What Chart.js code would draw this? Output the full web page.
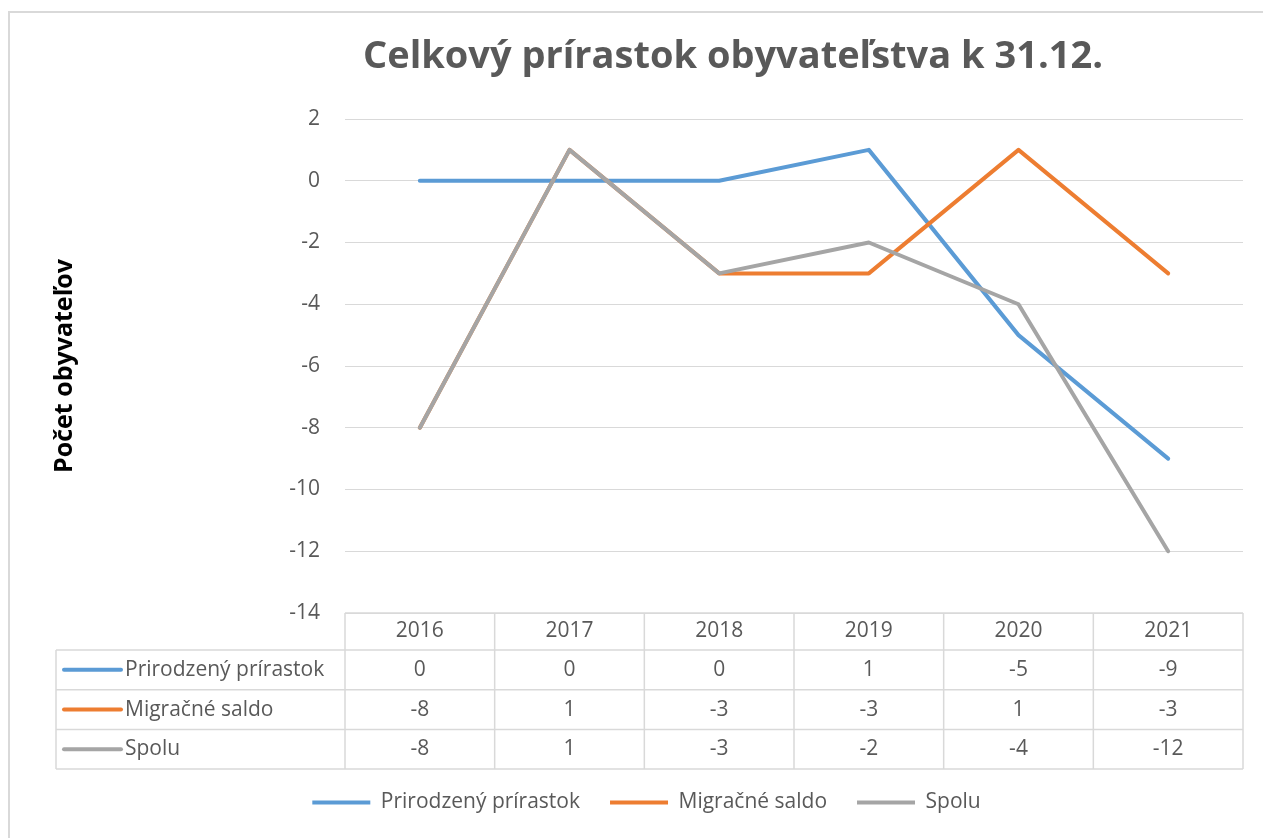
<!DOCTYPE html>
<html lang="sk">
<head>
<meta charset="UTF-8">
<title>Celkový prírastok obyvateľstva k 31.12.</title>
<script src="https://cdn.jsdelivr.net/npm/chart.js"></script>
<style>
html, body {
  margin: 0; padding: 0;
  width: 1263px; height: 838px;
  overflow: hidden;
  background: #fff;
}
#frame {
  position: absolute;
  left: 8px; top: 11px;
  width: 1300px; height: 900px;
  border-left: 2px solid #d9d9d9;
  border-top: 2px solid #d9d9d9;
}
#wrap {
  position: absolute;
  left: 0; top: 0;
  width: 1263px; height: 838px;
}
</style>
</head>
<body>
<div id="frame"></div>
<div id="wrap"><canvas id="chart" width="1263" height="838"></canvas></div>

<script>
const years = ['2016', '2017', '2018', '2019', '2020', '2021'];
const prirodzeny = [0, 0, 0, 1, -5, -9];
const migracne = [-8, 1, -3, -3, 1, -3];
const spolu = [-8, 1, -3, -2, -4, -12];
const seriesNames = ['Prirodzený prírastok', 'Migračné saldo', 'Spolu'];
const seriesColors = ['#5b9bd5', '#ed7d31', '#a5a5a5'];
const seriesValues = [prirodzeny, migracne, spolu];

const FONT = "'Open Sans', 'Noto Sans', sans-serif";
const TEXT = '#595959';
const GRID = '#d9d9d9';

// nadpis grafu
const titlePlugin = {
  id: 'chartTitle',
  afterDraw(chart) {
    const ctx = chart.ctx;
    ctx.save();
    ctx.font = 'bold 38px ' + FONT;
    ctx.fillStyle = TEXT;
    ctx.textAlign = 'center';
    ctx.textBaseline = 'middle';
    ctx.fillText('Celkový prírastok obyvateľstva k 31.12.', 733, 57);
    ctx.restore();
  }
};

// tabuľka údajov pod grafom
const tablePlugin = {
  id: 'dataTable',
  afterDraw(chart) {
    const { ctx, chartArea } = chart;
    const x = chart.scales.x;
    const top = chartArea.bottom;
    const headH = 37, rowH = 39.7;
    const colW = (chartArea.right - chartArea.left) / years.length;
    const leftX = 56;
    const bottom = top + headH + rowH * seriesNames.length;

    ctx.save();
    ctx.strokeStyle = GRID;
    ctx.lineWidth = 1.5;
    ctx.beginPath();
    ctx.moveTo(chartArea.left, top);
    ctx.lineTo(chartArea.right, top);
    for (let r = 0; r <= seriesNames.length; r++) {
      const y = top + headH + r * rowH;
      ctx.moveTo(leftX, y);
      ctx.lineTo(chartArea.right, y);
    }
    ctx.moveTo(leftX, top + headH);
    ctx.lineTo(leftX, bottom);
    for (let k = 0; k <= years.length; k++) {
      const cx = chartArea.left + k * colW;
      ctx.moveTo(cx, top);
      ctx.lineTo(cx, bottom);
    }
    ctx.stroke();

    ctx.font = '21px ' + FONT;
    ctx.fillStyle = TEXT;
    ctx.textBaseline = 'middle';
    ctx.textAlign = 'center';
    years.forEach((yr, i) => {
      ctx.fillText(yr, x.getPixelForValue(i), top + headH / 2);
    });
    seriesValues.forEach((vals, r) => {
      const cy = top + headH + rowH * (r + 0.5);
      ctx.textAlign = 'center';
      vals.forEach((v, i) => {
        ctx.fillText(String(v), x.getPixelForValue(i), cy);
      });
      ctx.strokeStyle = seriesColors[r];
      ctx.lineWidth = 4;
      ctx.lineCap = 'round';
      ctx.beginPath();
      ctx.moveTo(64, cy);
      ctx.lineTo(121, cy);
      ctx.stroke();
      ctx.textAlign = 'left';
      ctx.fillText(seriesNames[r], 125, cy);
    });
    ctx.restore();
  }
};

new Chart(document.getElementById('chart'), {
  type: 'line',
  data: {
    labels: years,
    datasets: seriesNames.map((name, i) => ({
      label: name,
      data: seriesValues[i],
      borderColor: seriesColors[i],
      backgroundColor: seriesColors[i],
      borderWidth: 4,
      borderCapStyle: 'round',
      borderJoinStyle: 'round',
      pointRadius: 0,
      tension: 0,
      order: seriesNames.length - i
    }))
  },
  options: {
    responsive: false,
    animation: false,
    devicePixelRatio: 1,
    layout: { padding: { left: 50, right: 20, top: 119, bottom: 15 } },
    scales: {
      x: {
        offset: true,
        ticks: { display: false },
        grid: { display: false },
        border: { display: false },
        afterFit(scale) { scale.height = 149; }
      },
      y: {
        min: -14,
        max: 2,
        ticks: {
          stepSize: 2,
          padding: 25,
          color: TEXT,
          font: { family: FONT, size: 21 }
        },
        grid: { color: GRID, lineWidth: 1, drawTicks: false },
        border: { display: false },
        title: {
          display: true,
          text: 'Počet obyvateľov',
          color: '#000',
          font: { family: FONT, size: 25, weight: 'bold' },
          padding: { top: 0, bottom: 0 }
        },
        afterFit(scale) { scale.width = 295; }
      }
    },
    plugins: {
      title: { display: false },
      tooltip: { enabled: false },
      legend: {
        position: 'bottom',
        labels: {
          boxWidth: 58,
          boxHeight: 4,
          padding: 30,
          color: TEXT,
          font: { family: FONT, size: 21 },
          sort: (a, b) => a.datasetIndex - b.datasetIndex,
          generateLabels(chart) {
            return Chart.defaults.plugins.legend.labels.generateLabels(chart)
              .map(l => Object.assign(l, { lineWidth: 0 }));
          }
        }
      }
    }
  },
  plugins: [titlePlugin, tablePlugin]
});
</script>
</body>
</html>
